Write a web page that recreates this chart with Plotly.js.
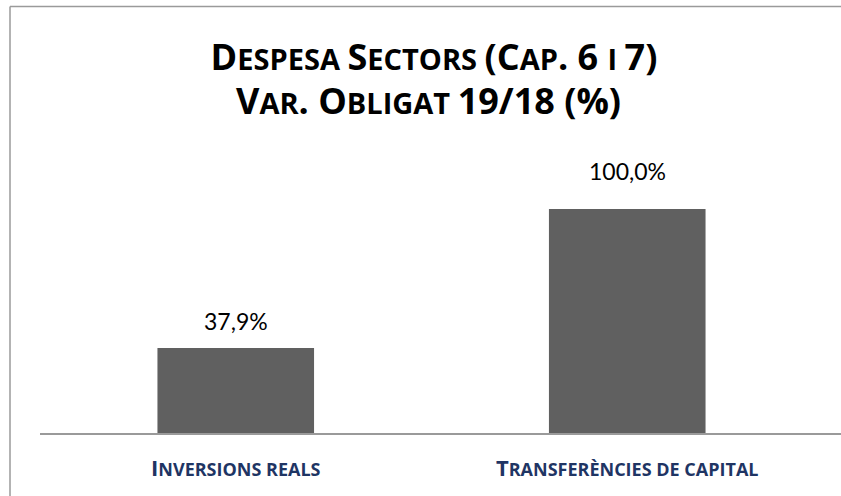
<!DOCTYPE html>
<html>
<head>
<meta charset="utf-8">
<script src="https://cdn.plot.ly/plotly-3.0.1.min.js"></script>
<style>html,body{margin:0;padding:0;background:#fff;}#chart{width:841px;height:496px;}</style>
</head>
<body>
<div id="chart"></div>
<script>
// Data
const categories = ["Inversions reals", "Transferències de capital"];
const values = [37.9, 100.0];
const titleLine1 = "Despesa Sectors (Cap. 6 i 7)";
const titleLine2 = "Var. Obligat 19/18 (%)";

const FONT = "Lato, 'Open Sans', sans-serif";
const BOLD_FONT = "'Open Sans', Lato, sans-serif";
const fmt = v => v.toFixed(1).replace('.', ',') + '%';
const labelShift = [27, 38];

// manual small caps: lowercase letters drawn as smaller capitals
function smallCaps(str, size, ratio) {
  const small = Math.round(size * ratio);
  let out = '', buf = '';
  const flush = () => { if (buf) { out += `<span style="font-size:${small}px">${buf.toUpperCase()}</span>`; buf = ''; } };
  for (const ch of str) {
    if (ch !== ch.toUpperCase() && ch === ch.toLowerCase()) { buf += ch; }
    else if (ch === ' ' && buf) { buf += ch; }
    else { flush(); out += ch; }
  }
  flush();
  return out;
}

const TITLE_SIZE = 36;
const TICK_SIZE = 22;
const titleFont = {family: BOLD_FONT, size: TITLE_SIZE, color: "#000", weight: 700};

const trace = {
  type: 'bar',
  x: categories,
  y: values,
  width: 0.4,
  marker: {color: '#606060'},
  hoverinfo: 'none'
};

const annotations = categories.map((c, i) => ({
  x: c, y: values[i], xref: 'x', yref: 'y',
  text: fmt(values[i]), showarrow: false,
  yanchor: 'middle', yshift: labelShift[i],
  font: {family: FONT, size: 23, color: '#000'}
}));
annotations.push({
  xref: 'paper', yref: 'paper', x: (428 - 40) / 801, y: (433 - 101) / 271,
  text: smallCaps(titleLine2, TITLE_SIZE, 0.8), showarrow: false, xanchor: 'center', yanchor: 'middle',
  font: titleFont
});

const layout = {
  width: 841, height: 496,
  margin: {l: 40, r: 0, t: 162, b: 63},
  paper_bgcolor: '#fff', plot_bgcolor: '#fff',
  showlegend: false,
  title: {
    text: smallCaps(titleLine1, TITLE_SIZE, 0.8),
    font: titleFont,
    x: 434 / 841, xanchor: 'center',
    y: 1 - 57 / 496, yanchor: 'middle'
  },
  xaxis: {
    type: 'category',
    range: [-0.5, 1.546],
    showline: true, linecolor: '#9a9a9a', linewidth: 1.5,
    ticks: '', showgrid: false, zeroline: false,
    ticklabelstandoff: 15,
    tickvals: categories,
    ticktext: categories.map(c => smallCaps(c, TICK_SIZE, 0.82)),
    tickfont: {family: BOLD_FONT, size: TICK_SIZE, color: '#1f3564', weight: 700}
  },
  yaxis: {
    range: [0, 271 / 2.24],
    visible: false, showgrid: false, zeroline: false
  },
  annotations: annotations,
  shapes: [
    {type: 'line', xref: 'paper', yref: 'paper', x0: (10 - 40) / 801, x1: (10 - 40) / 801, y0: (433 - 6.5) / 271, y1: (433 - 500) / 271, line: {color: '#9a9a9a', width: 1.5}},
    {type: 'line', xref: 'paper', yref: 'paper', x0: (10 - 40) / 801, x1: 1.01, y0: (433 - 6.5) / 271, y1: (433 - 6.5) / 271, line: {color: '#9a9a9a', width: 1.5}}
  ]
};

Plotly.newPlot('chart', [trace], layout, {staticPlot: true, displayModeBar: false});
</script>
</body>
</html>
